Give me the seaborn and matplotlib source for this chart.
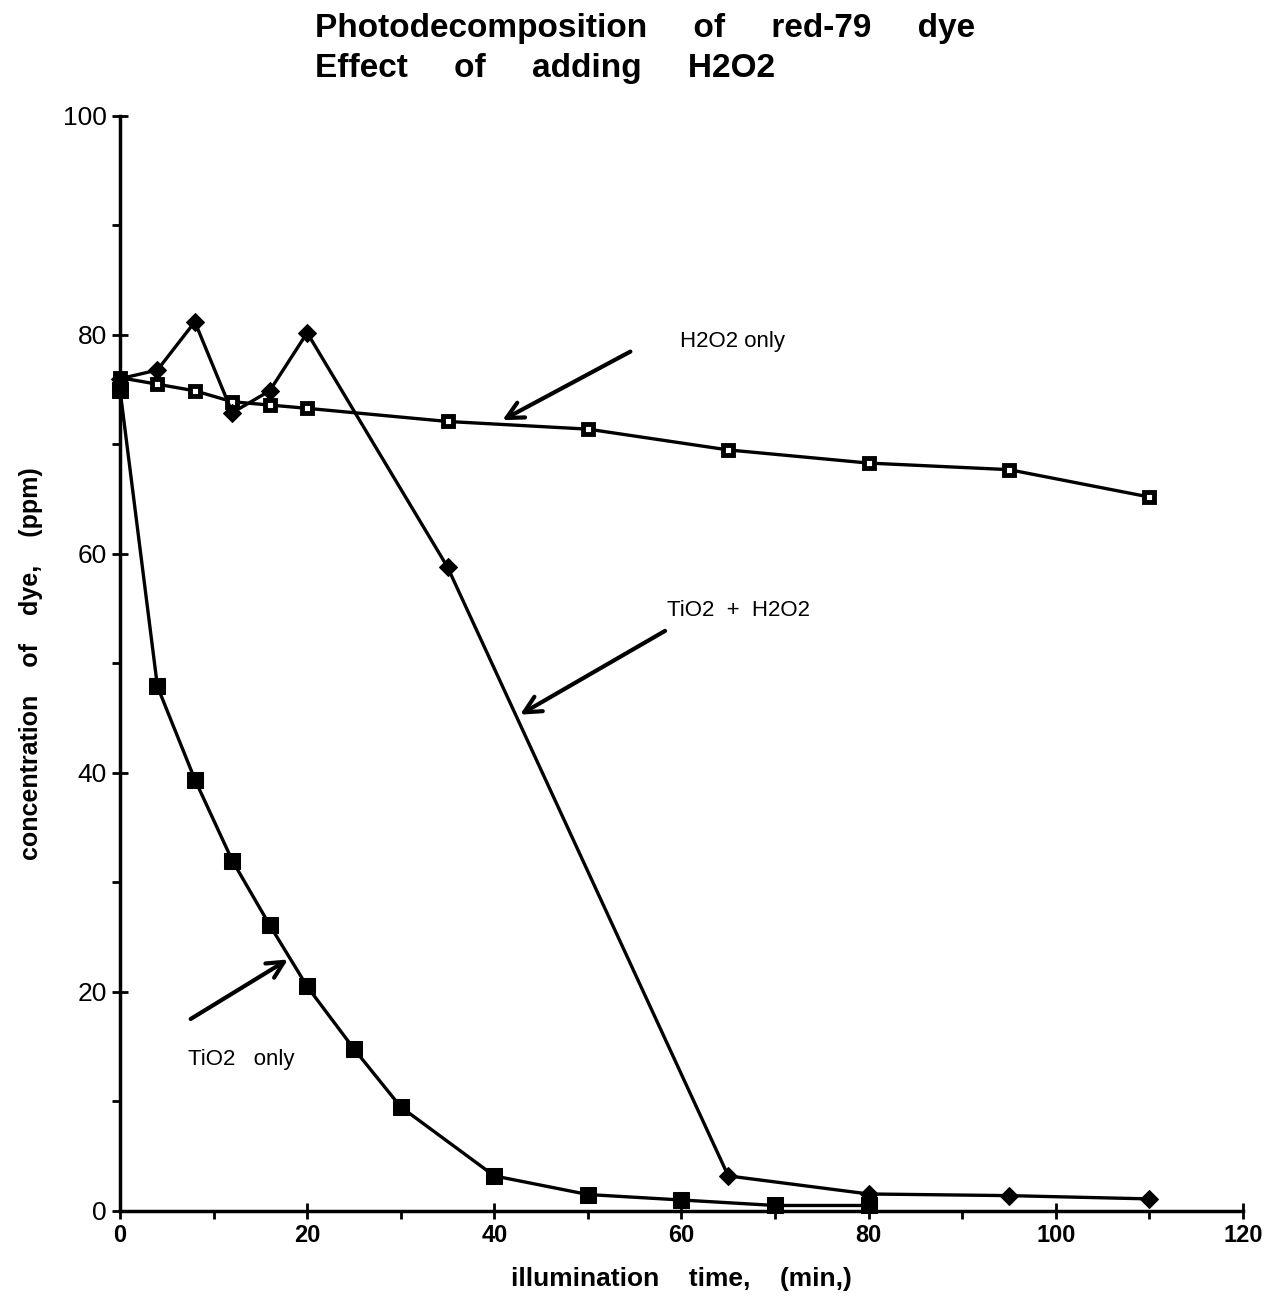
import matplotlib
matplotlib.use("Agg")
import matplotlib.pyplot as plt
import seaborn as sns
import pandas as pd

# ---- data ----
h2o2_time = [0, 4, 8, 12, 16, 20, 35, 50, 65, 80, 95, 110]
h2o2_conc = [76.1, 75.5, 74.9, 73.9, 73.6, 73.3, 72.1, 71.4, 69.5, 68.3, 67.7, 65.2]

tio2_h2o2_time = [0, 4, 8, 12, 16, 20, 35, 65, 80, 95, 110]
tio2_h2o2_conc = [76.0, 76.8, 81.2, 72.9, 74.9, 80.2, 58.8, 3.2, 1.55, 1.4, 1.1]

tio2_time = [0, 4, 8, 12, 16, 20, 25, 30, 40, 50, 60, 70, 80]
tio2_conc = [75.0, 47.9, 39.4, 32.0, 26.1, 20.5, 14.8, 9.5, 3.2, 1.5, 1.0, 0.5, 0.5]

x_ticks = [0, 20, 40, 60, 80, 100, 120]
y_ticks = [0, 20, 40, 60, 80, 100]

title_text = "Photodecomposition     of     red-79     dye\nEffect     of     adding     H2O2"
x_label = "illumination    time,    (min,)"
y_label = "concentration    of    dye,    (ppm)"

# annotations: (text, text_xy, arrow_tail, arrow_head)
annotations = [
    ("H2O2 only", (59.8, 79.4), (54.8, 78.6), (40.6, 72.1)),
    ("TiO2  +  H2O2", (58.5, 54.8), (58.5, 53.1), (42.5, 45.2)),
    ("TiO2   only", (7.3, 13.8), (7.3, 17.4), (18.2, 23.1)),
]

sns.set_style("ticks")
plt.rcParams["font.family"] = ["Liberation Sans", "DejaVu Sans"]
plt.rcParams["text.color"] = "black"
plt.rcParams["axes.labelcolor"] = "black"
plt.rcParams["xtick.color"] = "black"
plt.rcParams["ytick.color"] = "black"

fig = plt.figure(figsize=(12.8, 13), dpi=100)
ax = fig.add_axes([0.09375, 0.0685, 0.8773, 0.8423])

df1 = pd.DataFrame({"t": h2o2_time, "c": h2o2_conc})
df2 = pd.DataFrame({"t": tio2_h2o2_time, "c": tio2_h2o2_conc})
df3 = pd.DataFrame({"t": tio2_time, "c": tio2_conc})

lw = 2.4
sns.lineplot(data=df1, x="t", y="c", ax=ax, color="black", linewidth=lw,
             marker="s", markersize=6.5, markerfacecolor="white",
             markeredgecolor="black", markeredgewidth=3.5, zorder=3)
sns.lineplot(data=df2, x="t", y="c", ax=ax, color="black", linewidth=lw,
             marker="D", markersize=9, markerfacecolor="black",
             markeredgecolor="black", zorder=4)
sns.lineplot(data=df3, x="t", y="c", ax=ax, color="black", linewidth=lw,
             marker="s", markersize=11, markerfacecolor="black",
             markeredgecolor="black", zorder=5)

ax.set_xlim(0, 120)
ax.set_ylim(0, 100)
ax.set_xticks(x_ticks)
ax.set_yticks(y_ticks)
ax.set_xticks(range(0, 121, 10), minor=True)
ax.set_yticks(range(0, 101, 10), minor=True)
ax.tick_params(axis="both", which="major", direction="inout", length=12,
               width=2, colors="black")
ax.tick_params(axis="x", which="major", labelsize=17)
ax.tick_params(axis="y", which="major", labelsize=19)
ax.tick_params(axis="both", which="minor", direction="out", length=6, width=2)
for lab in ax.get_xticklabels():
    lab.set_fontweight("bold")
sns.despine(ax=ax)
for s in ["left", "bottom"]:
    ax.spines[s].set_linewidth(2.5)
    ax.spines[s].set_color("black")

ax.set_xlabel(x_label, fontsize=19, fontweight="bold", labelpad=14)
ax.set_ylabel(y_label, fontsize=18, fontweight="bold", labelpad=14)

fig.text(0.246, 0.99, title_text, fontsize=24, fontweight="bold",
         ha="left", va="top", linespacing=1.38)

for txt, txy, tail, head in annotations:
    ax.text(txy[0], txy[1], txt, fontsize=16, ha="left", va="center")
    ax.annotate("", xy=head, xytext=tail,
                arrowprops=dict(arrowstyle="->,head_length=1.2,head_width=0.6",
                                color="black", lw=3))

for line in ax.get_lines():
    line.set_clip_on(False)

fig.savefig("out.png", dpi=100, facecolor="white")
